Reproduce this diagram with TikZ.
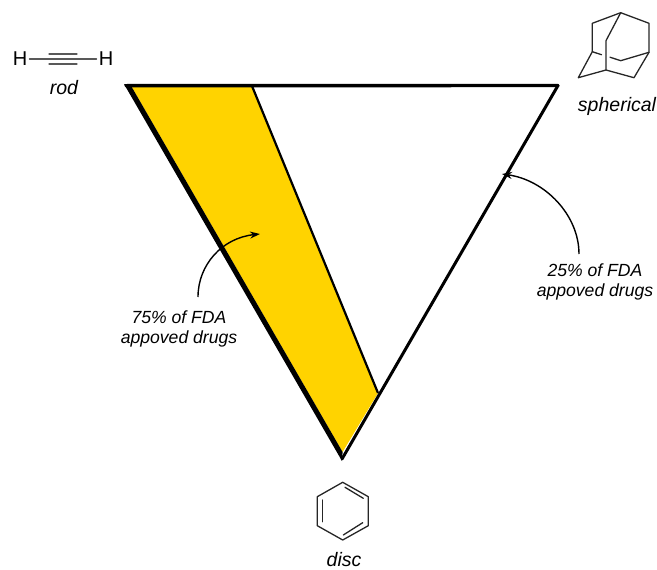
\documentclass[tikz,border=0pt]{standalone}
\usepackage{fontspec}
\setmainfont{Liberation Sans}
\usetikzlibrary{arrows.meta}
\definecolor{gold}{RGB}{255,211,0}
\tikzset{
  lbl/.style={font=\fontsize{17.6}{20}\selectfont\itshape,inner sep=0pt,align=center},
  biglbl/.style={font=\fontsize{19.5}{20}\selectfont\itshape,inner sep=0pt},
  atom/.style={font=\fontsize{20}{20}\selectfont,inner sep=0pt},
  bondline/.style={line width=1.3pt,draw=black!85,line cap=round,line join=round},
  callout/.style={line width=1.4pt,-{Stealth[length=10pt,width=7pt]}},
}
\begin{document}
\begin{tikzpicture}[x=1pt,y=-1pt]
\useasboundingbox (0,0) rectangle (657,570);
% triangle
\coordinate (TL) at (124,84);
\coordinate (TLi) at (130,84);
\coordinate (TR) at (558,85.5);
\coordinate (B) at (342,461);
\coordinate (Bi) at (342.6,452);
\coordinate (S1) at (252,86);
\coordinate (S2) at (378,393);
\fill[gold] (TLi) -- (S1) -- (S2) -- (Bi) -- cycle;
\draw[line width=2.2pt] (S1) -- (S2);
\draw[line width=3pt,line cap=round] (TR) -- (342,459);
\draw[line width=3.4pt,line cap=round] (126,85.7) -- (TR);
\fill (TL) -- (TLi) -- (Bi) -- (B) -- cycle;
% acetylene
\node[atom] (H1) at (20,59) {H};
\node[atom] (H2) at (106,59) {H};
\path (H1.east) ++(2,0) coordinate (b1) (H2.west) ++(-2,0) coordinate (b2);
\draw[bondline,draw=black!65] (b1) -- (b2);
\coordinate (t1) at (49,54); \coordinate (t2) at (77,54);
\coordinate (t3) at (49,64); \coordinate (t4) at (77,64);
\draw[bondline,draw=black!65] (t1) -- (t2);
\draw[bondline,draw=black!65] (t3) -- (t4);
\node[biglbl] (rod) at (64,88) {rod};
% adamantane
\foreach \n/\p in {a/{620.7,12.7},b/{592.3,23.3},c/{649,23.3},d/{592.3,51.7},e/{649,52.3},f/{606,40.7},g/{606,70},h/{578.3,77.7},i/{634,77.7},j/{620.7,60.7},k/{601.5,54.7},m/{610,57.2}}
  \coordinate (\n) at (\p);
\draw[bondline] (b) -- (a) -- (c) -- (e) -- (i) -- (g) -- (h) -- (d) -- (b);
\draw[bondline] (a) -- (f) -- (g);
\draw[bondline] (d) -- (k);
\draw[bondline] (m) -- (j) -- (e);
\node[biglbl] (spherical) at (617,106) {spherical};
% benzene
\foreach \n/\p in {p/{342.7,482.3},q/{368.3,496.7},r/{368.3,525.7},s/{342.7,540},u/{317.3,525.7},v/{317.3,496.7},
  w1/{322.3,500},w2/{322.3,521.7},w3/{345,487.3},w4/{363.3,498.3},w5/{343.3,535},w6/{362.7,522.7}}
  \coordinate (\n) at (\p);
\draw[bondline] (p) -- (q) -- (r) -- (s) -- (u) -- (v) -- cycle;
\draw[bondline] (w1) -- (w2);
\draw[bondline] (w3) -- (w4);
\draw[bondline] (w5) -- (w6);
\node[biglbl] (disc) at (344,559.5) {disc};
% callouts
\node[lbl] (drug75) at (179,328.5) {75\% of FDA\\appoved drugs};
\node[lbl] (drug25) at (595,281.5) {25\% of FDA\\appoved drugs};
\coordinate (a75s) at (198,297);
\coordinate (a75e) at (260,234);
\coordinate (a25s) at (579,254);
\coordinate (a25e) at (502,174);
\draw[callout] (a75s) .. controls (198,265) and (222,238) .. (a75e);
\draw[callout] (a25s) .. controls (579,215) and (545,180) .. (a25e);
\end{tikzpicture}
\end{document}
